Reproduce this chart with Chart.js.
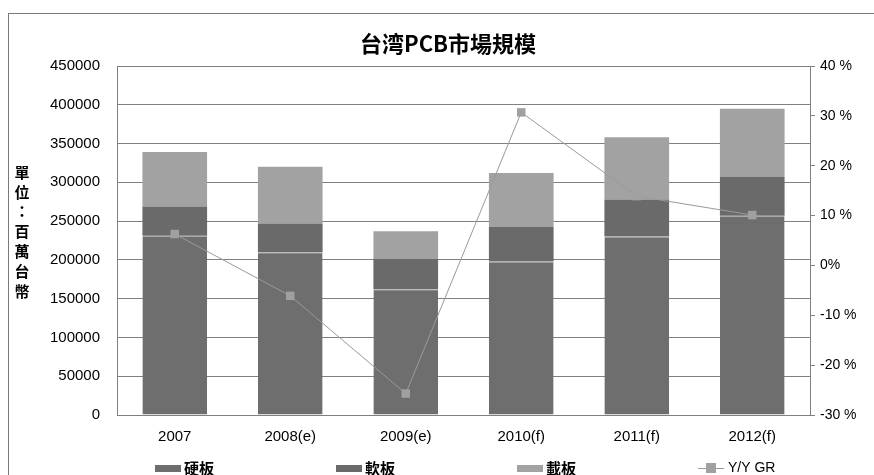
<!DOCTYPE html>
<html>
<head>
<meta charset="utf-8">
<script src="https://cdn.jsdelivr.net/npm/chart.js@4/dist/chart.umd.min.js"></script>
<style>
  html, body { margin: 0; padding: 0; background: #fff; }
  #wrap { width: 874px; height: 475px; position: relative; }
</style>
</head>
<body>
<div id="wrap"><canvas id="c" width="874" height="475"></canvas></div>
<script>
const categories = ['2007', '2008(e)', '2009(e)', '2010(f)', '2011(f)', '2012(f)'];
const rigidBoard = [231000, 210000, 162000, 198000, 230000, 257000];     // 硬板
const flexBoard = [38000, 37000, 39000, 44500, 48000, 50000];             // 軟板
const substrateBoard = [70000, 73000, 36000, 69500, 80000, 88000];        // 載板
const yoyGrowth = [6.3, -6.1, -25.7, 30.7, 13.9, 10.1];                   // Y/Y GR (%)
const leftTickValues = [0, 50000, 100000, 150000, 200000, 250000, 300000, 350000, 400000, 450000];
const rightTickLabels = ['-30 %', '-20 %', '-10 %', '0%', '10 %', '20 %', '30 %', '40 %'];
const seriesNames = ['硬板', '軟板', '載板', 'Y/Y GR'];
const chartTitle = '台湾PCB市場規模';
const yAxisTitle = ['單', '位', '：', '百', '萬', '台', '幣'];

const CJK = '"Noto Sans CJK TC", "Noto Sans CJK SC", sans-serif';
const LAT = '"Liberation Sans", Arial, sans-serif';

const framePlugin = {
  id: 'frame',
  beforeDraw(chart) {
    const ctx = chart.ctx;
    ctx.save();
    ctx.fillStyle = '#fff';
    ctx.fillRect(0, 0, chart.width, chart.height);
    ctx.strokeStyle = '#7a7a7a';
    ctx.lineWidth = 1;
    ctx.strokeRect(8.5, 13.5, chart.width, chart.height);
    ctx.restore();
  },
  afterDraw(chart) {
    const ctx = chart.ctx;
    const ca = chart.chartArea;
    ctx.save();
    // vertical y-axis title
    ctx.fillStyle = '#000';
    ctx.font = 'bold 15px ' + CJK;
    ctx.textAlign = 'center';
    ctx.textBaseline = 'middle';
    const step = 19.8;
    const startY = (ca.top + ca.bottom) / 2 - 9 - step * (yAxisTitle.length - 1) / 2;
    yAxisTitle.forEach((ch, i) => ctx.fillText(ch, 22, startY + i * step));
    // legend
    const ly = 468;
    const ds = chart.data.datasets;
    ds.forEach((d, i) => {
      const x = ca.left + 38 + i * 181;
      if (d.type === 'line') {
        ctx.strokeStyle = d.borderColor;
        ctx.lineWidth = 1;
        ctx.beginPath();
        ctx.moveTo(x, ly + 0.5);
        ctx.lineTo(x + 26, ly + 0.5);
        ctx.stroke();
        ctx.fillStyle = d.pointBackgroundColor;
        ctx.fillRect(x + 8, ly - 5, 10, 10);
        ctx.fillStyle = '#000';
        ctx.font = '14px ' + LAT;
        ctx.textAlign = 'left';
        ctx.fillText(d.label, x + 30, ly);
      } else {
        ctx.fillStyle = d.backgroundColor;
        ctx.fillRect(x, ly - 3, 26, 7);
        ctx.fillStyle = '#000';
        ctx.font = 'bold 15px ' + CJK;
        ctx.textAlign = 'left';
        ctx.fillText(d.label, x + 29, ly);
      }
    });
    ctx.restore();
  }
};

new Chart(document.getElementById('c'), {
  data: {
    labels: categories,
    datasets: [
      {
        type: 'bar', label: seriesNames[0], data: rigidBoard, yAxisID: 'y', order: 1,
        backgroundColor: '#6e6e6e', borderColor: '#a8a8a8',
        borderWidth: {top: 1, left: 0, right: 0, bottom: 0}, borderSkipped: false,
        barPercentage: 0.56, categoryPercentage: 1
      },
      {
        type: 'bar', label: seriesNames[1], data: flexBoard, yAxisID: 'y', order: 1,
        backgroundColor: '#6a6a6a', borderWidth: 0,
        barPercentage: 0.56, categoryPercentage: 1
      },
      {
        type: 'bar', label: seriesNames[2], data: substrateBoard, yAxisID: 'y', order: 1,
        backgroundColor: '#a2a2a2', borderWidth: 0,
        barPercentage: 0.56, categoryPercentage: 1
      },
      {
        type: 'line', label: seriesNames[3], data: yoyGrowth, yAxisID: 'y1', order: 0,
        borderColor: '#9a9a9a', borderWidth: 1, tension: 0,
        pointStyle: 'rect', pointRadius: 6, pointBorderWidth: 0,
        pointBackgroundColor: '#a0a0a0', pointHoverRadius: 6
      }
    ]
  },
  options: {
    responsive: false,
    animation: false,
    devicePixelRatio: 1,
    layout: { padding: { left: 22, right: 0, top: 0, bottom: 30 } },
    plugins: {
      legend: { display: false },
      tooltip: { enabled: false },
      title: {
        display: true, text: chartTitle, color: '#000',
        font: { family: CJK, size: 22, weight: 'bold' },
        padding: { top: 30, bottom: 9.6 }
      }
    },
    scales: {
      x: {
        stacked: true,
        grid: { display: false, drawTicks: false },
        border: { display: false },
        ticks: { color: '#000', padding: 13, font: { family: LAT, size: 15 } },
        afterFit: s => { s.height = 30; }
      },
      y: {
        stacked: true, position: 'left', min: 0, max: 450000,
        afterBuildTicks: s => { s.ticks = leftTickValues.map(v => ({ value: v })); },
        ticks: { color: '#000', padding: 17, font: { family: LAT, size: 15 }, callback: v => String(v) },
        grid: { color: '#808080', lineWidth: 1, drawTicks: false },
        border: { display: true, color: '#808080', width: 1 },
        afterFit: s => { s.width = 95; }
      },
      y1: {
        position: 'right', min: -30, max: 40,
        ticks: { stepSize: 10, color: '#000', padding: 5, font: { family: LAT, size: 14 },
          callback: (v, i) => rightTickLabels[i] },
        grid: { drawOnChartArea: false, drawTicks: true, tickLength: 5, color: '#808080' },
        border: { display: true, color: '#808080', width: 1 },
        afterFit: s => { s.width = 64; }
      }
    }
  },
  plugins: [framePlugin]
});
</script>
</body>
</html>
